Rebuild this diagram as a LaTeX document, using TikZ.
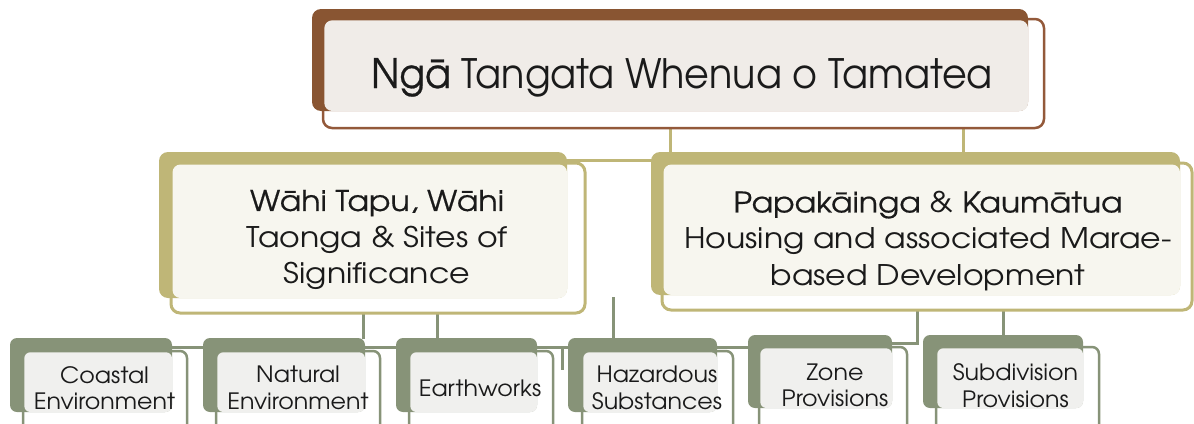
\documentclass[tikz,border=0pt]{standalone}
\usepackage{fontspec}
\setmainfont{TeX Gyre Adventor}
\usetikzlibrary{positioning}
\definecolor{brownD}{HTML}{895532}
\definecolor{brownO}{HTML}{93593A}
\definecolor{brownL}{HTML}{F0ECE8}
\definecolor{oliveD}{HTML}{BFB677}
\definecolor{oliveL}{HTML}{F7F6EF}
\definecolor{greenD}{HTML}{879378}
\definecolor{greenL}{HTML}{F0F0EE}
\definecolor{faint}{HTML}{EEEEE8}
\definecolor{txt}{HTML}{1A1A1A}
\newcommand\mw[1]{{\addfontfeature{FakeBold=0.6}#1}}
\tikzset{
  outl/.style={draw=#1, fill=white, rounded corners=9pt},
  backr/.style={fill=#1, rounded corners=9pt},
  facer/.style={fill=#1, rounded corners=8pt},
  conn/.style={draw=#1, line width=3pt},
  lbl/.style={text=txt, align=center, inner sep=0pt},
  toptxt/.style={lbl, font=\fontsize{40.5}{44}\selectfont\addfontfeature{FakeStretch=0.94}},
  midtxt/.style={lbl, font=\fontsize{28.4}{36.5}\selectfont\addfontfeature{FakeStretch=1.11}},
  lowtxt/.style={lbl, font=\fontsize{22.5}{26.5}\selectfont\addfontfeature{FakeStretch=1.055}},
}
\begin{document}
\begin{tikzpicture}[x=1pt,y=-1pt]
\useasboundingbox (0,0) rectangle (1194,423);
\clip (0,0) rectangle (1194,423);

% ---------- connectors (behind boxes) ----------
\coordinate (c1a) at (670,116); \coordinate (c1b) at (670,128); \coordinate (c1c) at (670,152);
\coordinate (c2a) at (963,116); \coordinate (c2b) at (963,128); \coordinate (c2c) at (963,152);
\draw[conn=faint] (c1a) -- (c1b);
\draw[conn=faint] (c2a) -- (c2b);
\draw[conn=oliveD] (c1b) -- (c1c);
\draw[conn=oliveD] (c2b) -- (c2c);
\coordinate (h1a) at (566,160); \coordinate (h1b) at (652,160);
\draw[conn=oliveD] (h1a) -- (h1b);

\coordinate (g1a) at (363,303); \coordinate (g1b) at (363,314); \coordinate (g1c) at (363,339);
\coordinate (g2a) at (437,303); \coordinate (g2b) at (437,314); \coordinate (g2c) at (437,339);
\draw[conn=faint] (g1a) -- (g1b);
\draw[conn=faint] (g2a) -- (g2b);
\draw[conn=greenD] (g1b) -- (g1c);
\draw[conn=greenD] (g2b) -- (g2c);
\coordinate (g3a) at (613,297); \coordinate (g3b) at (613,339);
\draw[conn=greenD] (g3a) -- (g3b);
\coordinate (s1a) at (171,347); \coordinate (s1b) at (204,347);
\coordinate (s2a) at (364,347); \coordinate (s2b) at (397,347);
\coordinate (s3a) at (536,347); \coordinate (s3b) at (569,347);
\coordinate (s4a) at (716,347); \coordinate (s4b) at (749,347);
\foreach \p/\q in {s1a/s1b,s2a/s2b,s3a/s3b,s4a/s4b} \draw[conn=greenD] (\p) -- (\q);
\coordinate (v1a) at (562,346); \coordinate (v1b) at (562,370);
\draw[conn=greenD] (v1a) -- (v1b);
\coordinate (z0) at (917,300); \coordinate (z1) at (917,311); \coordinate (z2) at (917,343); \coordinate (z3) at (891,343);
\draw[conn=faint] (z0) -- (z1);
\draw[conn=greenD] (z1) -- (z2) -- (z3);
\coordinate (w0) at (1003,300); \coordinate (w1) at (1003,311); \coordinate (w2) at (1003,336);
\draw[conn=faint] (w0) -- (w1);
\draw[conn=greenD] (w1) -- (w2);
\coordinate (f1a) at (898,348); \coordinate (f1b) at (898,370);
\draw[conn=faint] (f1a) -- (f1b);

% ---------- top box ----------
\draw[outl=brownO, line width=2.5pt] (323,19) rectangle (1044,128);
\fill[backr=brownD] (312,9) rectangle (1028,111);
\fill[facer=brownL] (324.3,20.3) rectangle (1028,111);
\node[toptxt, anchor=base] (top) at (682,88) {\mw{Ngā} Tangata Whenua o Tamatea};

% ---------- level 2 ----------
\draw[outl=oliveD, line width=3pt] (171,163) rectangle (585,313);
\fill[backr=oliveD] (159,152) rectangle (567,298);
\fill[facer=oliveL] (172.5,164.5) rectangle (567,298);
\node[midtxt] (wahi) at (377,240) {\mw{Wāhi Tapu, Wāhi}\\Taonga \& Sites of\\Significance};

\draw[outl=oliveD, line width=3pt] (662,163) rectangle (1192,310);
\fill[backr=oliveD] (651,152) rectangle (1180,295);
\fill[facer=oliveL] (663.5,164.5) rectangle (1180,295);
\node[midtxt] (papa) at (928,241) {\mw{Papakāinga} \& \mw{Kaumātua}\\Housing and associated Marae-\\based Development};

% ---------- level 3 ----------
\foreach \bx/\by/\bX/\bY/\ox/\oy/\oX in {
  10/338/172/412/23/351/187,
  203/338/365/412/216/351/380,
  396/338/537/412/409/351/553,
  568/338/717/412/582/351/733,
  748/335/892/408/759/347/907,
  923/335/1083/408/936/347/1099}{
  \draw[outl=greenD, line width=2.5pt, rounded corners=7pt] (\ox,\oy) rectangle (\oX,440);
  \fill[backr=greenD, rounded corners=7pt] (\bx,\by) rectangle (\bX,\bY);
  \fill[facer=greenL, rounded corners=6pt] ({\ox+1.3},{\oy+1.3}) rectangle (\bX,\bY);
}
\node[lowtxt] (coast) at (104.5,388) {Coastal\\Environment};
\node[lowtxt] (natur) at (298,388) {Natural\\Environment};
\node[lowtxt] (earth) at (480,388.5) {Earthworks};
\node[lowtxt] (hazar) at (657,388) {Hazardous\\Substances};
\node[lowtxt] (zone) at (835,385.5) {Zone\\Provisions};
\node[lowtxt] (subd) at (1015.5,385.5) {Subdivision\\Provisions};
\end{tikzpicture}
\end{document}
